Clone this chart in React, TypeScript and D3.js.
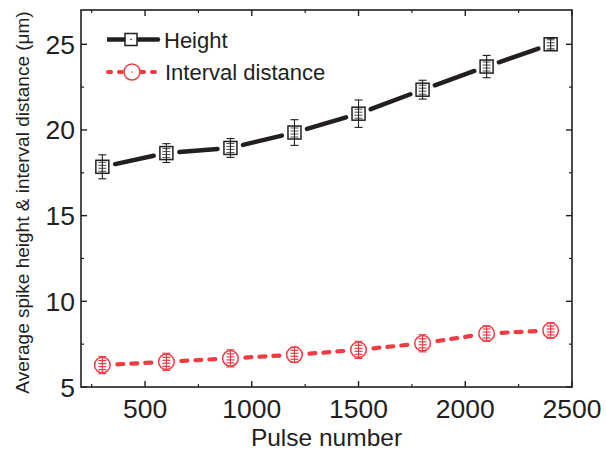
import React from 'react';
import * as d3 from 'd3';

const pulses = [300, 600, 900, 1200, 1500, 1800, 2100, 2400];
const heightVals = [17.85, 18.65, 18.95, 19.85, 20.95, 22.35, 23.7, 25.0];
const heightErr = [0.7, 0.55, 0.55, 0.75, 0.8, 0.55, 0.65, 0.35];
const intervalVals = [6.28, 6.47, 6.67, 6.88, 7.17, 7.55, 8.12, 8.3];
const intervalErr = [0.5, 0.5, 0.5, 0.45, 0.5, 0.5, 0.45, 0.45];
const xTicks = [500, 1000, 1500, 2000, 2500];
const xMinorTicks = [250, 750, 1250, 1750, 2250];
const yTicks = [5, 10, 15, 20, 25];
const yMinorTicks = [7.5, 12.5, 17.5, 22.5];
const seriesNames = ['Height', 'Interval distance'];
const xTitle = 'Pulse number';
const yTitle = 'Average spike height & interval distance (\u03bcm)';

const W = 606;
const H = 453;
const M = { left: 81, right: 34, top: 10, bottom: 66 };
const BLACK = '#231f20';
const RED = '#ef3b42';
const FONT = '"Liberation Sans", Arial, Helvetica, sans-serif';

function shorten(x1: number, y1: number, x2: number, y2: number, g: number) {
  const dx = x2 - x1, dy = y2 - y1;
  const len = Math.sqrt(dx * dx + dy * dy);
  const ux = dx / len, uy = dy / len;
  return [x1 + ux * g, y1 + uy * g, x2 - ux * g, y2 - uy * g];
}

export default function App() {
  const x = d3.scaleLinear().domain([200, 2500]).range([M.left, W - M.right]);
  const y = d3.scaleLinear().domain([5, 27]).range([H - M.bottom, M.top]);
  const x0 = M.left, x1 = W - M.right, y0 = H - M.bottom, y1 = M.top;

  const hPts = pulses.map((p, i) => [x(p), y(heightVals[i])]);
  const iPts = pulses.map((p, i) => [x(p), y(intervalVals[i])]);

  const inner = [-4.5, -1.5, 1.5, 4.5];

  return (
    <svg width={W} height={H} style={{ position: 'absolute', left: 0, top: 0, background: '#fff' }} fontFamily={FONT}>
      <rect x={0} y={0} width={W} height={H} fill="#fff" />
      {/* ticks */}
      {xTicks.map(t => (
        <g key={'xt' + t}>
          <line x1={x(t)} x2={x(t)} y1={y0} y2={y0 - 6} stroke={BLACK} strokeWidth={1.4} />
          <line x1={x(t)} x2={x(t)} y1={y1} y2={y1 + 6} stroke={BLACK} strokeWidth={1.4} />
          <text x={x(t)} y={y0 + 31} fontSize={26.5} textAnchor="middle" fill={BLACK}>{t}</text>
        </g>
      ))}
      {xMinorTicks.map(t => (
        <g key={'xm' + t}>
          <line x1={x(t)} x2={x(t)} y1={y0} y2={y0 - 3} stroke={BLACK} strokeWidth={1.2} />
          <line x1={x(t)} x2={x(t)} y1={y1} y2={y1 + 3} stroke={BLACK} strokeWidth={1.2} />
        </g>
      ))}
      {yTicks.map(t => (
        <g key={'yt' + t}>
          <line x1={x0} x2={x0 + 6} y1={y(t)} y2={y(t)} stroke={BLACK} strokeWidth={1.4} />
          <line x1={x1} x2={x1 - 6} y1={y(t)} y2={y(t)} stroke={BLACK} strokeWidth={1.4} />
          <text x={x0 - 6} y={y(t) + 9.5} fontSize={26.5} textAnchor="end" fill={BLACK}>{t}</text>
        </g>
      ))}
      {yMinorTicks.map(t => (
        <g key={'ym' + t}>
          <line x1={x0} x2={x0 + 3} y1={y(t)} y2={y(t)} stroke={BLACK} strokeWidth={1.2} />
          <line x1={x1} x2={x1 - 3} y1={y(t)} y2={y(t)} stroke={BLACK} strokeWidth={1.2} />
        </g>
      ))}
      <rect x={x0} y={y1} width={x1 - x0} height={y0 - y1} fill="none" stroke={BLACK} strokeWidth={1.6} />

      {/* Height line segments */}
      {hPts.slice(1).map((p, i) => {
        const [a, b, c, d] = shorten(hPts[i][0], hPts[i][1], p[0], p[1], 13);
        return <line key={'hs' + i} x1={a} y1={b} x2={c} y2={d} stroke={BLACK} strokeWidth={4.5} strokeLinecap="round" />;
      })}
      {/* Interval line segments */}
      {iPts.slice(1).map((p, i) => {
        const [a, b, c, d] = shorten(iPts[i][0], iPts[i][1], p[0], p[1], 15);
        return <line key={'is' + i} x1={a} y1={b} x2={c} y2={d} stroke={RED} strokeWidth={4.2} strokeLinecap="round" strokeDasharray="6 8" />;
      })}

      {/* Height markers */}
      {pulses.map((p, i) => {
        const cx = x(p), cy = y(heightVals[i]);
        const top = y(heightVals[i] + heightErr[i]), bot = y(heightVals[i] - heightErr[i]);
        return (
          <g key={'hm' + i}>
            <rect x={cx - 6.5} y={cy - 6.5} width={13} height={13} fill="#fff" stroke={BLACK} strokeWidth={1.5} />
            <line x1={cx} x2={cx} y1={top} y2={bot} stroke={BLACK} strokeWidth={1.1} />
            <line x1={cx - 4} x2={cx + 4} y1={top} y2={top} stroke={BLACK} strokeWidth={1.1} />
            <line x1={cx - 4} x2={cx + 4} y1={bot} y2={bot} stroke={BLACK} strokeWidth={1.1} />
            {inner.map((o, k) => (
              <line key={k} x1={cx - 4} x2={cx + 4} y1={cy + o} y2={cy + o} stroke={BLACK} strokeWidth={1} opacity={0.8} />
            ))}
          </g>
        );
      })}
      {/* Interval markers */}
      {pulses.map((p, i) => {
        const cx = x(p), cy = y(intervalVals[i]);
        const top = y(intervalVals[i] + intervalErr[i]), bot = y(intervalVals[i] - intervalErr[i]);
        return (
          <g key={'im' + i}>
            <circle cx={cx} cy={cy} r={7.8} fill="#fff" stroke={RED} strokeWidth={1.5} />
            <line x1={cx} x2={cx} y1={top} y2={bot} stroke={RED} strokeWidth={1.1} />
            <line x1={cx - 4} x2={cx + 4} y1={top} y2={top} stroke={RED} strokeWidth={1.1} />
            <line x1={cx - 4} x2={cx + 4} y1={bot} y2={bot} stroke={RED} strokeWidth={1.1} />
            {inner.map((o, k) => (
              <line key={k} x1={cx - 4} x2={cx + 4} y1={cy + o} y2={cy + o} stroke={RED} strokeWidth={1.2} />
            ))}
          </g>
        );
      })}

      {/* Legend */}
      <g>
        <line x1={107} x2={125} y1={39.5} y2={39.5} stroke={BLACK} strokeWidth={4.5} />
        <line x1={137} x2={158} y1={39.5} y2={39.5} stroke={BLACK} strokeWidth={4.5} strokeLinecap="round" />
        <rect x={125} y={33.5} width={12} height={12} fill="#fff" stroke={BLACK} strokeWidth={1.5} />
        <circle cx={131} cy={39.5} r={0.8} fill={BLACK} />
        <text x={164} y={47.5} fontSize={22} fill={BLACK}>{seriesNames[0]}</text>

        <line x1={108} x2={158} y1={72} y2={72} stroke={RED} strokeWidth={4} strokeLinecap="round" strokeDasharray="3 8" />
        <circle cx={132} cy={72} r={8} fill="#fff" stroke={RED} strokeWidth={1.5} />
        <circle cx={132} cy={72} r={0.8} fill={RED} />
        <text x={165} y={80} fontSize={22} fill={BLACK}>{seriesNames[1]}</text>
      </g>

      {/* Axis titles */}
      <text x={(x0 + x1) / 2} y={446} fontSize={24.5} textAnchor="middle" fill={BLACK}>{xTitle}</text>
      <text transform={`translate(29,${(y0 + y1) / 2 + 4}) rotate(-90)`} fontSize={19} textAnchor="middle" fill={BLACK}>{yTitle}</text>
    </svg>
  );
}
